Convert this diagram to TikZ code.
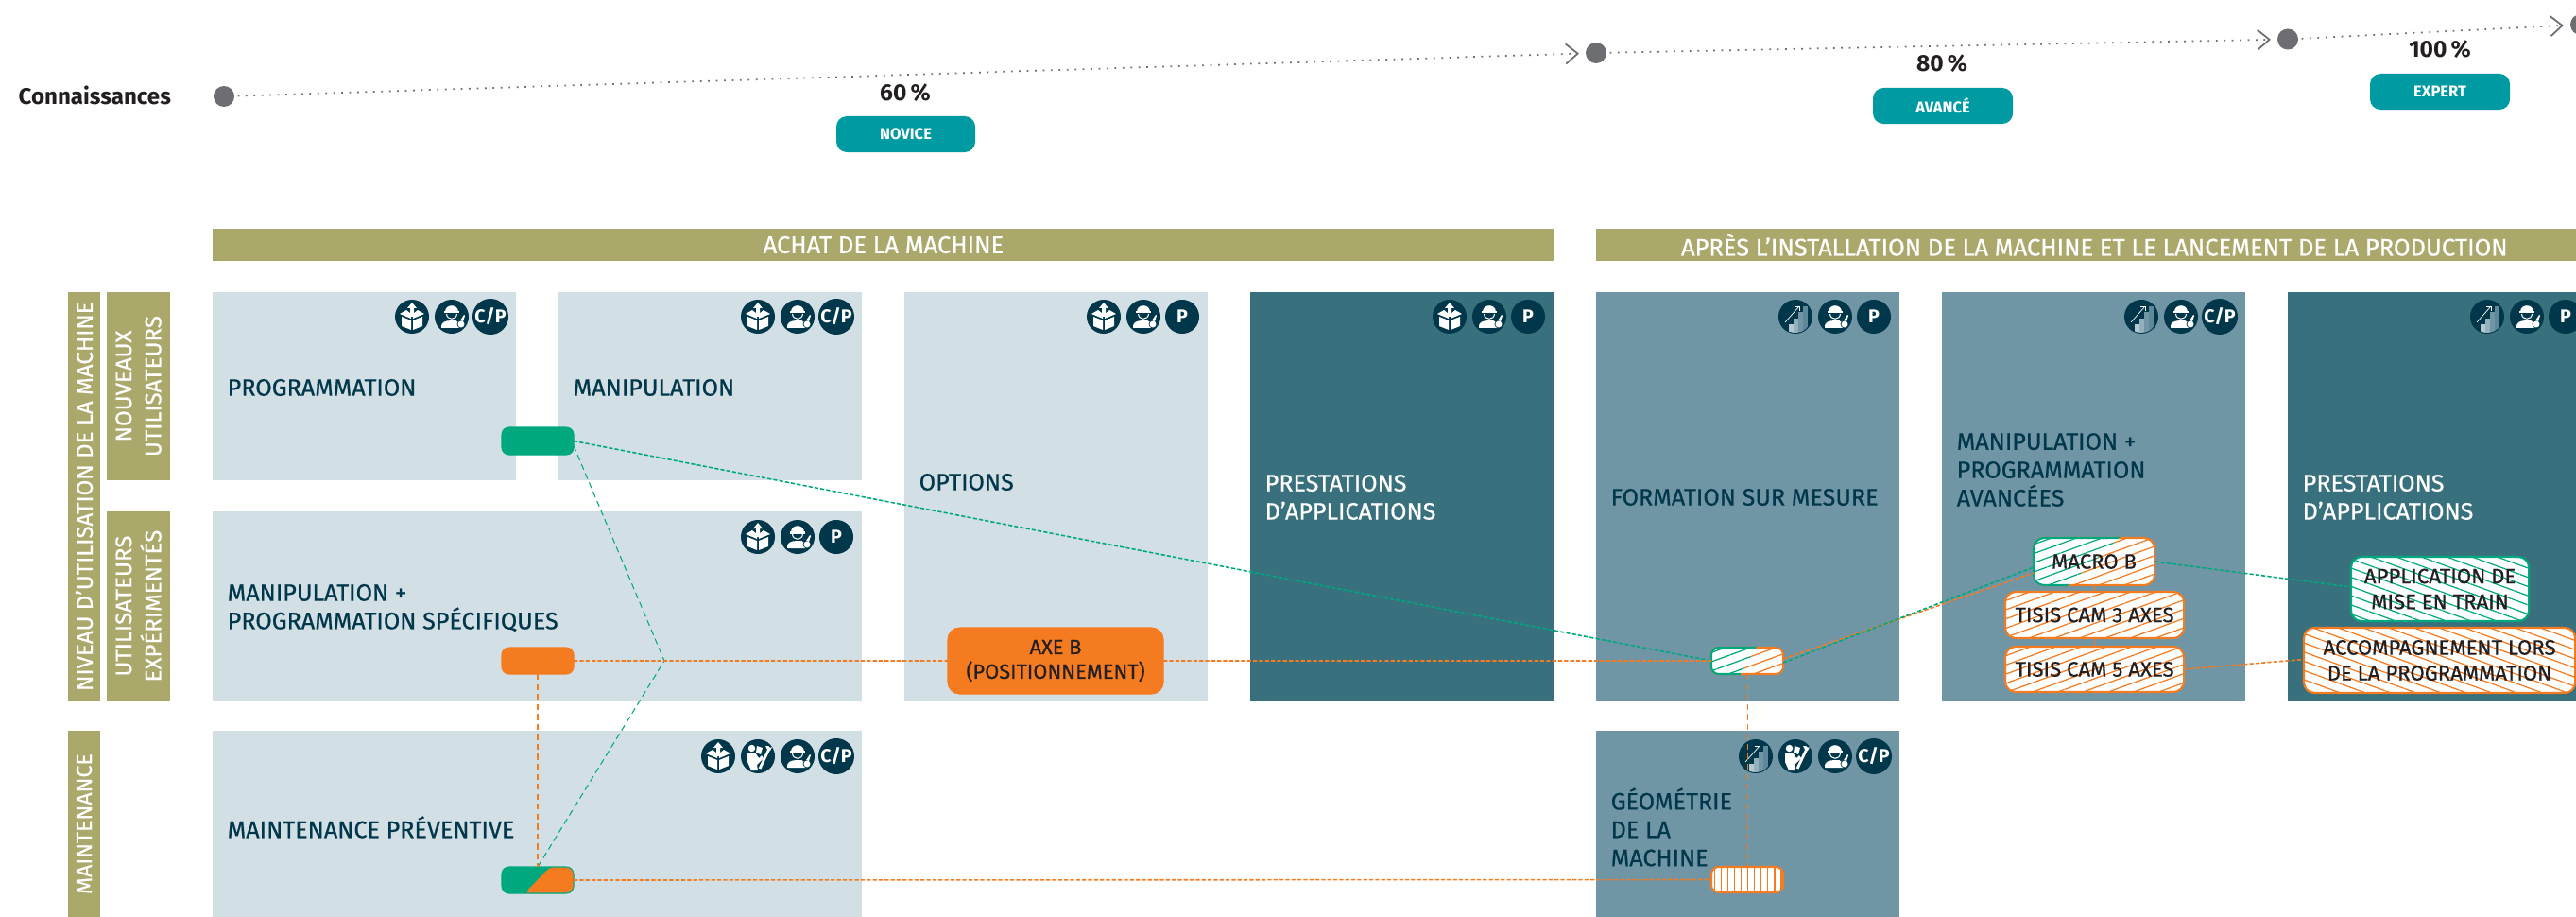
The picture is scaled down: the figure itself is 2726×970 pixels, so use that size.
\documentclass[tikz,border=0pt]{standalone}
\usepackage{fontspec}
\setmainfont{Fira Sans}
\newfontfamily\medfont{Fira Sans}[FakeBold=0.6]
\usepackage{tikz}
\usetikzlibrary{shapes,arrows.meta,positioning,patterns.meta}
\definecolor{paleblue}{HTML}{D2DFE5}
\definecolor{midblue}{HTML}{7096A6}
\definecolor{deepblue}{HTML}{38707E}
\definecolor{inkblue}{HTML}{00374A}
\definecolor{olive}{HTML}{AAA86B}
\definecolor{teal}{HTML}{009AA3}
\definecolor{leaf}{HTML}{00A87E}
\definecolor{carrot}{HTML}{F47B20}
\definecolor{stone}{HTML}{6D6E71}
\definecolor{soot}{HTML}{231F20}

\begin{document}
\begin{tikzpicture}[x=0.01cm,y=-0.01cm]
\tikzset{font={\medfont\fontsize{7.15}{8.5}\selectfont}}
\tikzset{
  cell/.style={anchor=north west,inner sep=0pt,outer sep=0pt},
  pale/.style={cell,fill=paleblue},
  mid/.style={cell,fill=midblue},
  deep/.style={cell,fill=deepblue},
  band/.style={cell,fill=olive},
  bandtext/.style={text=white,align=center,rotate=90,font={\medfont\fontsize{6.85}{8.9}\selectfont}},
  celltext/.style={anchor=west,text=inkblue,align=left,inner sep=0pt},
  lighttext/.style={celltext,text=white},
  tag/.style={cell,fill=#1,draw=#1,rounded corners=2.2pt,line width=.3pt},
  level/.style={cell,fill=teal,rounded corners=3.2pt,text=white},
  hatchlines/.style={cell,preaction={fill=white},draw=#1,line width=.6pt,rounded corners=3.2pt,pattern color=#1},
  lean/.style={pattern={Lines[angle=20,distance=2.6pt,line width=.35pt]}},
  back/.style={pattern={Lines[angle=-20,distance=2.6pt,line width=.35pt]}},
  upright/.style={pattern={Lines[angle=90,distance=2pt,line width=.35pt]}},
  hatchtext/.style={text=soot,align=center,font={\medfont\fontsize{6.3}{7.7}\selectfont}},
  knots/.style={stone,line width=.5pt,dash pattern=on .5pt off 1.9pt,shorten <=.8pt,shorten >=1.8pt,-{Straight Barb[length=3.6pt,width=6pt,line width=.5pt]}},
  thicklink/.style={#1,line width=.45pt,dash pattern=on 1.2pt off .6pt},
  thinlink/.style={#1,line width=.3pt,dash pattern=on 1.8pt off 1.2pt},
  badge/.style={circle,fill=inkblue,minimum size=.36cm,inner sep=0pt,text=white,font={\bfseries\fontsize{5.6}{6}\selectfont}},
  boxicon/.pic={
    \fill[inkblue] (0,0) circle (18);
    \fill[white] (-11,0) -- (-1,4) -- (-1,14) -- (-11,10) -- cycle;
    \fill[white] (11,0) -- (1,4) -- (1,14) -- (11,10) -- cycle;
    \fill[white] (-13,-3) -- (-6,-7) -- (-1,-3) -- (-1,2) -- cycle;
    \fill[white] (13,-3) -- (6,-7) -- (1,-3) -- (1,2) -- cycle;
    \fill[white] (0,-15) -- (5,-9) -- (2,-9) -- (2,0) -- (-2,0) -- (-2,-9) -- (-5,-9) -- cycle;
  },
  workericon/.pic={
    \fill[inkblue] (0,0) circle (18);
    \fill[white] (-7,-5) .. controls (-7,-14) and (7,-14) .. (7,-5) -- cycle;
    \fill[white] (-8,-6) rectangle (8,-3.5);
    \draw[white,line width=.3pt] (-5.5,-3) .. controls (-5,4) and (5,4) .. (5.5,-3);
    \fill[white] (-11,12) .. controls (-12,6) and (-7,4) .. (0,4) .. controls (4,4) and (6,4) .. (7,6) -- (9,12) -- cycle;
    \fill[white,draw=inkblue,line width=.2pt] (10,8) circle (4);
    \fill[white] (9,4) -- (13,-2) -- (14,-1) -- (12,5) -- cycle;
  },
  charticon/.pic={
    \fill[inkblue] (0,0) circle (18);
    \begin{scope}
    \clip (0,0) circle (17);
    \fill[paleblue!70!midblue] (-7,8) rectangle (-2.5,18);
    \fill[midblue!75!white] (-2,2) rectangle (2.5,18);
    \fill[midblue] (3,-5) rectangle (7.5,18);
    \fill[midblue!85!inkblue] (8,-11) rectangle (12.5,18);
    \end{scope}
    \draw[white,line width=.2pt] (-11,6) -- (4,-11);
    \draw[white,line width=.2pt] (-1,-11) -- (4,-11) -- (4,-6);
  },
  wrenchicon/.pic={
    \fill[inkblue] (0,0) circle (18);
    \fill[white] (-6.5,-8.5) circle (3.7);
    \fill[white] (-11,-4) -- (-3,-4) -- (1,2) -- (4,-1) -- (6,2) -- (-1,9) -- (0,15) -- (-7,15) -- (-11,6) -- cycle;
    \fill[white] (-1,-11) -- (5,-9) -- (3,-2) -- (-2,-4) -- cycle;
    \draw[white,line width=.8pt] (12,-8) -- (2,13);
    \fill[white] (8,-11) -- (10,-7) -- (13,-6) -- (15,-10) -- (13,-9) -- (11,-11) -- cycle;
  },
}
\clip (0,0) rectangle (2726,970);

%Knowledge line
\node[anchor=west,inner sep=0pt,font={\bfseries\fontsize{6.85}{8.5}\selectfont},text=soot] (know) at (19,101) {Connaissances};
\tikzset{stop/.style={circle,fill=stone,minimum size=.22cm,inner sep=0pt}}
\node[stop] (dota) at (237,102) {};
\node[stop] (dotb) at (1689,56) {};
\node[stop] (dotc) at (2421,41.5) {};
\node[stop] (dotd) at (2731,26) {};
\draw[knots] (dota) -- (dotb);
\draw[knots] (dotb) -- (dotc);
\draw[knots] (dotc) -- (dotd);

\node[text=soot,font={\bfseries\fontsize{7}{8.5}\selectfont}] (sixty) at (958,98) {60\,\%};
\node[text=soot,font={\bfseries\fontsize{7}{8.5}\selectfont}] (eighty) at (2055,67) {80\,\%};
\node[text=soot,font={\bfseries\fontsize{7}{8.5}\selectfont}] (hundred) at (2582,52) {100\,\%};
\tikzset{levelfont/.style={font={\bfseries\fontsize{4.7}{6}\selectfont}}}
\node[level,levelfont,minimum width=1.47cm,minimum height=.38cm] (novice) at (885,123) {NOVICE};
\node[level,levelfont,minimum width=1.48cm,minimum height=.38cm] (avance) at (1982,93) {AVANCÉ};
\node[level,levelfont,minimum width=1.48cm,minimum height=.38cm] (expert) at (2508,78) {EXPERT};

%Headers
\node[band,minimum width=14.19cm,minimum height=.34cm] (achat) at (225,242) {};
\node[band,minimum width=10.54cm,minimum height=.34cm] (apres) at (1689,242) {};
\tikzset{headtext/.style={text=white,font={\medfont\fontsize{7.25}{8.5}\selectfont}}}
\node[headtext] (achattxt) at (achat.center) {ACHAT DE LA MACHINE};
\node[headtext] (aprestxt) at (apres.center) {APRÈS L’INSTALLATION DE LA MACHINE ET LE LANCEMENT DE LA PRODUCTION};

%Side bands
\node[band,minimum width=.34cm,minimum height=4.32cm] (niveau) at (72,309) {};
\node[band,minimum width=.67cm,minimum height=1.99cm] (nouveaux) at (113,309) {};
\node[band,minimum width=.67cm,minimum height=2cm] (experts) at (113,541) {};
\node[band,minimum width=.34cm,minimum height=1.97cm] (maint) at (72,773) {};
\node[bandtext] (niveautxt) at (niveau.center) {NIVEAU D’UTILISATION DE LA MACHINE};
\node[bandtext] (nouveauxtxt) at (nouveaux.center) {NOUVEAUX\\UTILISATEURS};
\node[bandtext] (expertstxt) at (experts.center) {UTILISATEURS\\EXPÉRIMENTÉS};
\node[bandtext,font={\medfont\fontsize{6.6}{8.9}\selectfont}] (mainttxt) at (maint.center) {MAINTENANCE};

%Cells
\node[pale,minimum width=3.21cm,minimum height=1.99cm] (prog) at (225,309) {};
\node[pale,minimum width=3.21cm,minimum height=1.99cm] (manip) at (591,309) {};
\node[pale,minimum width=3.21cm,minimum height=4.32cm] (options) at (957,309) {};
\node[deep,minimum width=3.21cm,minimum height=4.32cm] (presta) at (1323,309) {};
\node[mid,minimum width=3.21cm,minimum height=4.32cm] (mesure) at (1689,309) {};
\node[mid,minimum width=3.21cm,minimum height=4.32cm] (avancees) at (2055,309) {};
\node[deep,minimum width=3.21cm,minimum height=4.32cm] (prestb) at (2421,309) {};
\node[pale,minimum width=6.87cm,minimum height=2cm] (specif) at (225,541) {};
\node[pale,minimum width=6.87cm,minimum height=1.97cm] (prevent) at (225,773) {};
\node[mid,minimum width=3.21cm,minimum height=1.97cm] (geom) at (1689,773) {};

\node[celltext] (progtxt) at (240,410) {PROGRAMMATION};
\node[celltext] (maniptxt) at (606,410) {MANIPULATION};
\node[celltext] (optionstxt) at (972,510) {OPTIONS};
\node[lighttext] (prestatxt) at (1338,526) {PRESTATIONS\\D’APPLICATIONS};
\node[celltext] (mesuretxt) at (1704,526) {FORMATION SUR MESURE};
\node[celltext] (avanceestxt) at (2070,497) {MANIPULATION +\\PROGRAMMATION\\AVANCÉES};
\node[lighttext] (prestbtxt) at (2436,526) {PRESTATIONS\\D’APPLICATIONS};
\node[celltext] (specitxt) at (240,643) {MANIPULATION +\\PROGRAMMATION SPÉCIFIQUES};
\node[celltext] (preventtxt) at (240,875) {MAINTENANCE PRÉVENTIVE};
\node[celltext] (geomtxt) at (1704,875) {GÉOMÉTRIE\\DE LA\\MACHINE};

%Icons
\foreach \x/\y in {436/335,802/335,1168/335,1534/335,802/568,760/800}
\pic at (\x,\y) {boxicon};
\foreach \x/\y in {478/335,844/335,1210/335,1576/335,1942/335,2308/335,2674/335,844/568,844/800,1942/800}
\pic at (\x,\y) {workericon};
\foreach \x/\y in {1900/335,2266/335,2632/335,1858/800}
\pic at (\x,\y) {charticon};
\foreach \x/\y in {802/800,1900/800}
\pic at (\x,\y) {wrenchicon};
\foreach \x/\y in {519/335,885/335,2349/335,885/800,1983/800}
\node[badge] (cp\x\y) at (\x,\y) {C/P};
\foreach \x/\y in {1251/335,1617/335,1983/335,2715/335,885/568}
\node[badge] (pp\x\y) at (\x,\y) {P};

%Tags
\node[tag=leaf,minimum width=.76cm,minimum height=.29cm] (greentag) at (531,452) {};
\node[tag=carrot,minimum width=.76cm,minimum height=.28cm] (orangetag) at (531,685) {};
\node[tag=leaf,minimum width=.76cm,minimum height=.28cm,path picture={\fill[carrot] (14,-15) -- (40,-15) -- (40,15) -- (-15,15) -- cycle;}] (bothtag) at (531,917) {};
\node[tag=carrot,rounded corners=3.6pt,minimum width=2.28cm,minimum height=.7cm,text=soot,align=center,font={\medfont\fontsize{6.2}{7.4}\selectfont}] (axeb) at (1003,664) {AXE B\\(POSITIONNEMENT)};

\coordinate (kink) at (703,699);

%Hatched tags
\node[hatchlines=carrot,upright,rounded corners=2.2pt,minimum width=.76cm,minimum height=.27cm] (geotag) at (1811,917) {};
\node[hatchlines=carrot,lean,rounded corners=2.2pt,minimum width=.76cm,minimum height=.28cm] (mesuretag) at (1811,685) {};
\node[hatchlines=carrot,lean,minimum width=1.28cm,minimum height=.5cm] (macro) at (2152,569) {};
\node[hatchlines=carrot,lean,minimum width=1.89cm,minimum height=.49cm,hatchtext] (tisisa) at (2122,626) {TISIS CAM 3 AXES};
\node[hatchlines=carrot,lean,minimum width=1.89cm,minimum height=.48cm,hatchtext] (tisisb) at (2122,684) {TISIS CAM 5 AXES};
\node[hatchlines=leaf,back,minimum width=1.88cm,minimum height=.68cm,hatchtext] (mise) at (2488,589) {APPLICATION DE\\MISE EN TRAIN};
\node[hatchlines=carrot,back,minimum width=2.87cm,minimum height=.69cm,hatchtext] (accomp) at (2438,664) {ACCOMPAGNEMENT LORS\\DE LA PROGRAMMATION};
% green halves
\begin{scope}
\clip (1800,680) -- (1861,680) -- (1838,720) -- (1800,720) -- cycle;
\draw[hatchlines=leaf,lean,rounded corners=2.2pt] (mesuretag.south west) rectangle (mesuretag.north east);
\end{scope}
\begin{scope}
\clip (2140,560) -- (2252,560) -- (2177,630) -- (2140,630) -- cycle;
\draw[hatchlines=leaf,lean,rounded corners=3.2pt] (macro.south west) rectangle (macro.north east);
\end{scope}
\node[hatchtext] (macrotxt) at (macro.center) {MACRO B};

%Links
\draw[thicklink=leaf] (greentag.east) -- (mesuretag.west);
\draw[thinlink=leaf] (greentag.east) ++(0,5) -- (kink) -- (bothtag.north);
\draw[thicklink=carrot] (orangetag.east) -- (axeb.west);
\draw[thicklink=carrot] (axeb.east) -- (mesuretag.west);
\draw[thinlink=carrot] (orangetag.south) -- (bothtag.north);
\draw[thicklink=carrot] (bothtag.east) -- (geotag.west);
\draw[thinlink=carrot] (mesuretag.south) -- (geotag.north);
\draw[thicklink=carrot] (mesuretag.east) ++(0,-2) -- ([yshift=-.12cm]macro.west);
\draw[thicklink=leaf] (mesuretag.east) ++(0,2) -- ([yshift=-.06cm]macro.west);
\draw[carrot,line width=.3pt] (macro.south) -- (tisisa.north);
\draw[carrot,line width=.3pt] (tisisa.south) -- (tisisb.north);
\draw[thicklink=leaf] (macro.east) -- ([yshift=.02cm]mise.west);
\draw[thicklink=carrot] (tisisb.east) -- ([yshift=.01cm]accomp.west);
\end{tikzpicture}
\end{document}
